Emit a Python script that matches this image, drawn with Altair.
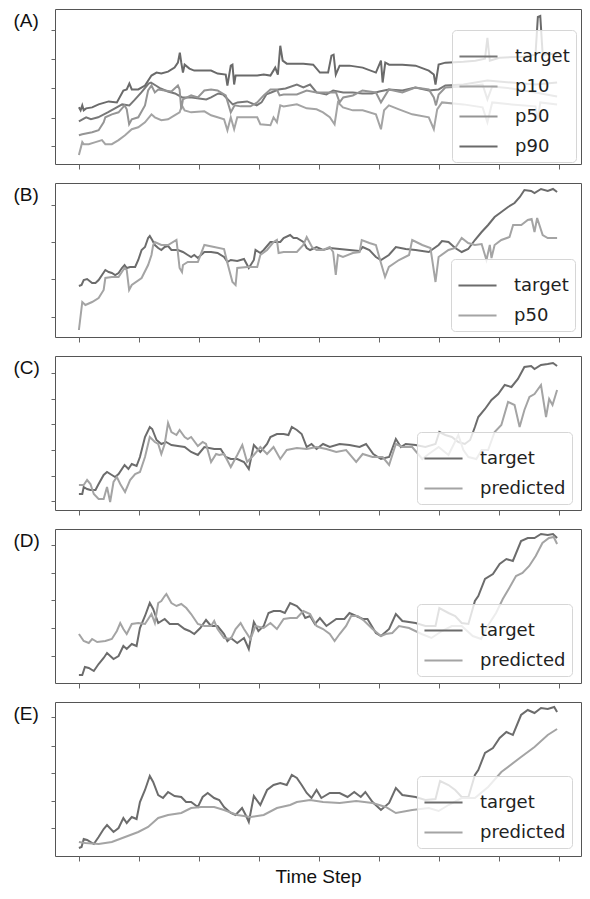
import altair as alt
import pandas as pd

# ---------------- data (time step, level) ----------------
# Panel A
A_target_t = [0, 3, 5, 8, 12, 15, 18, 21, 23, 26, 29, 30, 32, 34, 37, 40, 43, 47, 50, 53, 55, 58, 60, 62, 64, 66, 70, 74, 76, 78, 80, 83, 86, 90.7, 93.4, 96.2, 98.9, 103, 105.8, 110, 114, 118, 122, 125, 129, 134.6, 140, 145.6, 149.7, 152.5, 160, 170, 180, 190, 199]
A_target_v = [43, 47, 45, 47, 52, 56, 60, 59, 64, 72, 81, 82, 79, 76, 73, 71, 67, 67, 66, 65, 67, 71, 70, 65, 60, 62, 63, 59, 62, 70, 72, 75, 76, 80, 77, 80, 72, 70, 74, 72, 72, 71, 71, 73, 75, 74, 77, 74, 75, 79, 80, 84, 82, 80, 82]
A_p10_t = [0, 1.4, 2, 4.1, 6.9, 9.6, 11, 13.7, 16.5, 19.2, 22, 24.7, 27.5, 30.2, 31.6, 34.3, 37.1, 39.8, 41.9, 42.9, 44, 46.7, 52.2, 55, 57.7, 60.4, 61.8, 63.2, 64.6, 65.9, 71.4, 74.2, 75.5, 79.7, 81, 82.4, 83.8, 85.2, 90.7, 94.8, 98.9, 101.6, 104.4, 106.4, 107.8, 109.9, 114, 118.1, 123.6, 125.7, 127, 129, 133.2, 138.7, 145.6, 147.7, 149.1, 151.1, 160, 168, 170, 172, 180, 190, 191, 192, 199]
A_p10_v = [9, 22, 20, 20, 22, 24, 20, 20, 24, 29, 35, 37, 42, 50, 47, 44, 45, 49, 52, 59, 54, 52, 53, 49, 47, 45, 34, 47, 35, 47, 47, 47, 40, 39, 47, 42, 59, 58, 60, 56, 55, 52, 47, 40, 62, 57, 54, 54, 50, 35, 54, 59, 55, 50, 47, 35, 55, 62, 60, 57, 42, 62, 60, 58, 45, 62, 60]
A_p50_t = [0, 1.4, 5.5, 8.2, 10.3, 11, 13.7, 16.5, 19, 19.9, 20.9, 22, 24.7, 27.5, 28.8, 30.2, 31.6, 33, 35.7, 38.5, 41.2, 41.9, 42.6, 43.3, 46.7, 49.5, 52.2, 55, 57.7, 61.1, 63.2, 64.8, 67.3, 71.4, 74.2, 76.9, 79.7, 82.4, 83.5, 85.2, 90.7, 94.8, 98.9, 103, 107, 108.5, 110, 114, 118, 123.6, 125.7, 129, 134.6, 140, 145.6, 147.7, 148.6, 149.7, 152.5, 160, 168, 170, 172, 180, 190, 199]
A_p50_v = [29, 30, 32, 34, 42, 47, 50, 52, 59, 55, 40, 45, 47, 59, 74, 79, 72, 75, 74, 73, 79, 75, 55, 65, 69, 67, 74, 75, 74, 69, 52, 59, 58, 58, 62, 69, 75, 75, 69, 70, 70, 74, 72, 72, 72, 62, 67, 69, 74, 72, 62, 75, 72, 77, 75, 67, 59, 70, 77, 78, 80, 65, 78, 76, 72, 68]
A_p90_t = [0, 0.7, 1.4, 2, 3, 5.5, 8.2, 12.4, 15.8, 18.5, 19.9, 21, 22, 24.7, 27.5, 30.2, 32.3, 34.3, 37.1, 39.8, 41.2, 42, 42.6, 43.3, 44, 46, 48, 52.2, 55, 57.7, 61.1, 61.8, 63.2, 63.9, 64.6, 65.2, 68.7, 74.2, 76.9, 79.7, 81.7, 82.8, 83.8, 84.8, 86.5, 90.7, 93.4, 97.5, 100.3, 103.7, 105.1, 106, 106.9, 108.5, 112.6, 118.1, 123.6, 125.7, 126.4, 127.5, 129.1, 134.6, 140.1, 145.6, 147.7, 148.4, 149.7, 152.5, 160, 165, 169, 170, 171, 175, 185, 190, 191, 192, 193, 199]
A_p90_v = [57, 54, 59, 54, 56, 57, 60, 63, 62, 74, 75, 81, 75, 75, 79, 89, 92, 91, 93, 97, 102, 112, 102, 92, 100, 96, 94, 94, 94, 91, 90, 79, 99, 100, 80, 89, 89, 89, 90, 89, 97, 90, 119, 104, 101, 101, 101, 100, 92, 92, 109, 110, 90, 99, 99, 97, 92, 104, 82, 102, 100, 100, 99, 94, 90, 80, 100, 102, 103, 104, 106, 127, 104, 107, 108, 110, 148, 149, 110, 111]

# Panel B
B_target_t = [0, 1.1, 2, 3.4, 5.5, 6.9, 8.2, 11, 12.4, 13.7, 15.1, 16.5, 17.9, 19, 19.9, 21.3, 23.4, 24.7, 26.1, 27.5, 28.8, 29.5, 30.5, 31.6, 33, 34.3, 35.7, 37.1, 38.5, 41.2, 43.3, 45.3, 46.7, 48, 49.5, 52.2, 55, 57.7, 60.4, 61.8, 63.2, 65.9, 68.7, 70.7, 72.8, 73.5, 75.5, 76.9, 79.7, 83.8, 85.2, 87.9, 89.3, 90.7, 93.4, 94.8, 96.2, 98.9, 101.6, 104.4, 108.5, 112.6, 116.8, 118.1, 120.9, 123.6, 125.7, 129, 131.9, 136, 140.1, 145.6, 149.7, 151.1, 153.8, 156.6, 159.3, 162, 164.8, 167.6, 170.3, 173, 175.8, 178.6, 181.3, 183.5, 185.4, 188.2, 189.6, 192.3, 195.1, 197.3, 199]
B_target_v = [51, 52, 57, 58, 54, 54, 57, 67, 65, 64, 62, 64, 69, 72, 69, 70, 70, 77, 87, 90, 99, 101, 97, 92, 89, 87, 90, 91, 87, 87, 85, 82, 80, 82, 79, 85, 85, 84, 80, 75, 77, 76, 78, 69, 77, 87, 84, 87, 95, 95, 99, 102, 99, 99, 95, 89, 87, 90, 87, 89, 88, 87, 86, 90, 87, 80, 77, 82, 90, 88, 87, 85, 92, 96, 95, 89, 85, 88, 97, 105, 112, 120, 125, 130, 134, 140, 147, 146, 144, 148, 146, 148, 145]
B_p50_t = [0, 1.4, 2.7, 5.5, 8.2, 10.3, 11, 13.7, 16.5, 19, 19.9, 20.9, 22, 26.1, 28.8, 30.2, 30.9, 31.6, 34.3, 37.1, 40.6, 41.9, 42.9, 43.3, 45.3, 49.5, 52.2, 56.3, 60.4, 61.8, 63.9, 65.2, 65.9, 70, 74.2, 75.5, 78.3, 81, 82.4, 83.1, 85.2, 90.7, 93.4, 94.8, 97, 98.9, 101.6, 104.4, 105.8, 106.9, 107.8, 109.9, 114, 116.8, 117.7, 120.9, 123.6, 125.7, 127.4, 129, 133.2, 137.4, 138.7, 142.9, 146.3, 148.4, 149.7, 153.8, 156.6, 159.3, 162, 164.8, 167.6, 169.6, 171, 171.7, 173, 175.8, 179.2, 180.7, 184.1, 186.8, 188.4, 189.6, 190.7, 193, 195.1, 199]
B_p50_v = [7, 35, 32, 35, 39, 47, 59, 60, 60, 69, 67, 47, 52, 59, 72, 82, 92, 95, 92, 92, 97, 69, 65, 72, 75, 75, 92, 90, 88, 74, 55, 52, 69, 70, 70, 82, 87, 95, 97, 84, 85, 85, 92, 100, 90, 87, 87, 90, 85, 62, 82, 80, 84, 85, 97, 94, 92, 74, 60, 70, 77, 82, 97, 92, 89, 55, 80, 87, 89, 99, 94, 92, 93, 77, 92, 79, 92, 97, 100, 112, 112, 117, 118, 105, 119, 102, 99, 99]

# Panel C
C_target_t = [0, 1.4, 2, 3.4, 4.8, 6.9, 8.2, 10.3, 11.7, 13.7, 15.1, 16.5, 19, 20.6, 22, 24, 25.4, 27.5, 29.5, 30.5, 32.3, 34.3, 36.3, 38.5, 41.2, 44, 46.7, 49.5, 52.2, 56.3, 59, 61.1, 63.2, 65.9, 68.7, 70.7, 72.8, 75.5, 78.3, 79.7, 82.4, 85.2, 87.2, 88.6, 90.7, 92.7, 94.8, 96.8, 98.9, 101.6, 104.4, 108.5, 112.6, 116.8, 119.5, 122.5, 125.7, 129.1, 131.9, 134, 136, 140.1, 144.2, 148.4, 150, 152.5, 155.2, 157.9, 160.6, 162.8, 164.8, 166.2, 169, 171.7, 174.5, 177.2, 180, 182.7, 185.4, 188.2, 189.6, 192.3, 195.1, 197.3, 199]
C_target_v = [16, 16, 23, 21, 20, 20, 26, 35, 38, 35, 33, 36, 45, 41, 46, 44, 53, 73, 83, 81, 70, 66, 68, 65, 64, 63, 58, 55, 63, 61, 61, 53, 51, 51, 48, 41, 65, 58, 66, 73, 76, 76, 75, 83, 80, 76, 63, 66, 61, 66, 63, 66, 65, 63, 66, 56, 51, 53, 71, 63, 66, 65, 63, 66, 78, 75, 73, 68, 66, 70, 83, 93, 101, 110, 116, 125, 123, 131, 143, 144, 141, 145, 146, 147, 144]
C_pred_t = [0, 2, 3.4, 4.8, 6.2, 8.2, 10.3, 11.7, 13, 14.4, 15.8, 17.2, 19.2, 21.3, 23.4, 25.4, 27.5, 29.5, 31.6, 33, 34.3, 35.7, 37.1, 38.5, 40.6, 41.9, 44, 45.3, 46.7, 49.5, 51.5, 52.9, 55, 57.1, 58.4, 60.4, 63.2, 65.9, 68, 70, 72.8, 75.5, 78.3, 81, 83.8, 86.5, 90.7, 94.8, 98.9, 103, 107.1, 111.2, 115.4, 118.1, 122.2, 126.4, 129.1, 131.9, 134.6, 138.7, 142.9, 145.6, 149.7, 153.8, 157.9, 160, 162.1, 165.4, 167.6, 170.3, 173, 175.8, 178.6, 181.3, 183.4, 185.4, 187.5, 189.6, 192.3, 194.4, 195.7, 197.1, 199]
C_pred_v = [25, 25, 30, 26, 16, 11, 11, 23, 8, 28, 33, 26, 18, 30, 36, 38, 53, 73, 68, 66, 56, 66, 87, 78, 75, 80, 73, 71, 73, 64, 68, 66, 48, 56, 55, 56, 43, 55, 65, 48, 55, 63, 56, 63, 51, 60, 62, 61, 63, 61, 58, 60, 48, 56, 53, 53, 45, 66, 63, 63, 51, 56, 63, 55, 75, 60, 53, 51, 60, 60, 78, 85, 108, 105, 83, 100, 113, 116, 125, 93, 111, 105, 120]

# Panel D
D_target_t = [0, 1.4, 2.5, 4.1, 6.2, 8.2, 10.3, 11.7, 14.4, 16.5, 18.5, 19.9, 22, 24, 25.4, 27.5, 29.5, 30.9, 33, 35.7, 37.8, 41.2, 44, 46, 48, 50.5, 52.9, 55, 57.7, 60.4, 61.8, 63.2, 65.9, 68.7, 70.7, 72.8, 74.7, 76.9, 78.9, 81, 83.8, 85.7, 87.9, 90.7, 92.7, 94.2, 96.2, 98.2, 100.3, 103, 107.1, 110.5, 112.6, 115.4, 118.1, 120.1, 123.6, 125.7, 129.1, 131.9, 134.6, 140.1, 144.2, 148.4, 150, 153.8, 156.6, 159.3, 162.1, 164.8, 166.2, 169, 172.3, 175.1, 177.9, 180.6, 184, 186.8, 189.6, 192.3, 195.1, 197.3, 199]
D_target_v = [8, 8, 16, 15, 12, 19, 25, 30, 24, 27, 37, 34, 39, 37, 55, 67, 80, 74, 60, 64, 59, 59, 54, 52, 49, 55, 63, 57, 57, 49, 42, 45, 40, 45, 34, 61, 52, 57, 70, 72, 72, 70, 80, 77, 72, 65, 67, 59, 65, 57, 64, 64, 70, 67, 64, 64, 50, 47, 54, 69, 62, 60, 57, 57, 75, 70, 67, 60, 59, 82, 87, 104, 109, 119, 124, 122, 142, 145, 145, 149, 148, 149, 145]
D_pred_t = [0, 2, 4.1, 5.5, 7.6, 11, 13.7, 15.8, 17.2, 18.5, 19.9, 22, 24.7, 27.5, 30.2, 31.6, 33, 34.3, 35.7, 36.4, 38.5, 40.6, 42.6, 44.7, 46.7, 49.5, 52.2, 55, 56.3, 57.7, 60.4, 63.2, 65.2, 67.3, 68.7, 71.4, 73.5, 76.9, 79.7, 82.4, 85.2, 87.9, 90.7, 93.4, 96.2, 98.9, 101.6, 104.4, 106.4, 108.5, 111.2, 113.3, 116, 118.8, 122.2, 125.7, 127.7, 130.4, 133.2, 137.4, 142.6, 146.7, 151.1, 155.2, 159.3, 163.9, 167.4, 170.1, 173.6, 176.4, 179.1, 181.9, 184.6, 187.4, 190.1, 192.9, 195.6, 197.6, 199]
D_pred_v = [49, 42, 40, 44, 41, 42, 44, 52, 60, 54, 49, 59, 60, 59, 69, 60, 80, 82, 87, 89, 80, 77, 79, 75, 69, 59, 57, 57, 62, 54, 45, 44, 54, 60, 54, 44, 57, 55, 60, 54, 64, 65, 65, 72, 69, 57, 54, 49, 42, 49, 57, 67, 67, 62, 54, 47, 49, 50, 57, 55, 49, 45, 52, 57, 57, 47, 44, 57, 70, 84, 95, 107, 110, 117, 127, 140, 145, 146, 139]

# Panel E
E_target_t = [0, 1.1, 2, 3.4, 6.2, 8.2, 10.3, 11.7, 14.4, 16.5, 18.5, 19.9, 22, 24, 25.4, 27.5, 29.5, 30.9, 33, 35, 37.1, 39.8, 42.6, 44.6, 46.7, 49.5, 51.5, 53.6, 56.3, 58.4, 60.4, 63.2, 65.2, 67.9, 69.4, 70.7, 72.8, 75.5, 78.3, 81, 83.8, 86.5, 88.6, 90.7, 92.7, 94.8, 96.8, 98.9, 100.9, 104.4, 108.5, 111.8, 114.6, 117.3, 119.2, 122.2, 125.7, 129.1, 131.9, 134.6, 140.1, 144.2, 148.4, 150.3, 153.8, 156.6, 159.3, 162.1, 164.8, 166.2, 169, 172.3, 175.1, 177.9, 180.6, 184, 186.8, 189.6, 192.3, 195.1, 197.8, 199]
E_target_v = [8, 9, 17, 16, 12, 19, 27, 31, 24, 28, 38, 33, 39, 37, 54, 66, 80, 74, 61, 58, 64, 60, 59, 54, 54, 49, 59, 63, 58, 56, 49, 43, 41, 48, 41, 34, 60, 51, 66, 71, 73, 71, 81, 78, 71, 63, 58, 66, 58, 63, 63, 59, 64, 59, 64, 54, 46, 53, 68, 61, 59, 56, 57, 75, 71, 66, 59, 59, 81, 86, 103, 108, 118, 124, 121, 141, 146, 143, 148, 147, 149, 144]
E_pred_t = [0, 2.7, 8.2, 13.7, 19.2, 24.7, 28.8, 33, 37.1, 42.6, 46.7, 50.8, 56.3, 60.4, 65.9, 71.4, 76.9, 82.4, 87.9, 90.7, 96.2, 101.6, 108.5, 115.4, 122.2, 127.7, 131.9, 138.7, 145.6, 149.7, 153.8, 159.3, 164.8, 170.3, 175.8, 184, 189.6, 195.1, 199]
E_pred_v = [14, 13, 12, 14, 19, 24, 29, 38, 41, 43, 48, 49, 49, 46, 41, 39, 41, 48, 51, 54, 56, 54, 53, 55, 53, 49, 43, 46, 48, 45, 51, 58, 58, 69, 84, 99, 109, 121, 127]

# axis tick positions (level units)
x_ticks = [0, 25, 50, 75, 100, 125, 150, 175, 200]
A_yticks = [17.7, 46.7, 76, 105.3, 135.3]
B_yticks = [20, 58, 95, 132]
C_yticks = [8.7, 34, 59.7, 85.7, 111.3, 137.3]
D_yticks = [27, 54.7, 82.7, 110.3, 138]
E_yticks = [28.3, 55.3, 82.7, 110.3, 138.7]

FONT_LEG = "DejaVu Sans"
FONT_TXT = "Liberation Sans"
PLOT_W = 526


def frame(series_list):
    rows = []
    for name, ts, vs in series_list:
        for t, v in zip(ts, vs):
            rows.append({"t": t, "v": v, "series": name})
    return pd.DataFrame(rows)


def panel(series_list, colors, yticks, ydom, label, lx, ly, height, xtitle=None):
    df = frame(series_list)
    order = [s[0] for s in series_list]
    if xtitle:
        xaxis = alt.Axis(values=x_ticks, labels=False, domain=False, grid=False,
                         tickSize=5, tickColor="#666", title=xtitle,
                         titleFont=FONT_TXT, titleFontSize=19, titleFontWeight="normal",
                         titleColor="#111", titlePadding=6)
    else:
        xaxis = alt.Axis(values=x_ticks, labels=False, domain=False, grid=False,
                         tickSize=5, tickColor="#666", title=None)
    yaxis = alt.Axis(values=yticks, labels=False, domain=False, grid=False,
                     tickSize=4, tickColor="#666", title=label, titleAngle=0,
                     titleAlign="left", titleBaseline="middle", titleX=-42, titleY=11,
                     titleFont=FONT_TXT, titleFontSize=19, titleFontWeight="normal",
                     titleColor="#111")
    legend = alt.Legend(title=None, orient="none", legendX=lx, legendY=ly,
                        symbolType="stroke", symbolStrokeWidth=2, symbolSize=1450,
                        labelFont=FONT_LEG, labelFontSize=18, labelColor="#222",
                        labelOffset=16, rowPadding=-5, padding=6,
                        fillColor="rgba(255,255,255,0.8)", strokeColor="#d6d6d6",
                        cornerRadius=4)
    return alt.Chart(df).mark_line(strokeWidth=2, clip=True).encode(
        x=alt.X("t:Q", scale=alt.Scale(domain=[-9.95, 208.95], nice=False, zero=False), axis=xaxis),
        y=alt.Y("v:Q", scale=alt.Scale(domain=ydom, nice=False, zero=False), axis=yaxis),
        color=alt.Color("series:N", sort=order,
                        scale=alt.Scale(domain=order, range=colors), legend=legend),
    ).properties(width=PLOT_W, height=height)


pA = panel([("target", A_target_t, A_target_v), ("p10", A_p10_t, A_p10_v),
            ("p50", A_p50_t, A_p50_v), ("p90", A_p90_t, A_p90_v)],
           ["#787878", "#a4a4a4", "#959595", "#6a6a6a"], A_yticks, [0, 156], "(A)", 397, 21, 155)
pB = panel([("target", B_target_t, B_target_v), ("p50", B_p50_t, B_p50_v)],
           ["#6c6c6c", "#a4a4a4"], B_yticks, [0, 154], "(B)", 396, 76, 154)
pC = panel([("target", C_target_t, C_target_v), ("predicted", C_pred_t, C_pred_v)],
           ["#6c6c6c", "#a4a4a4"], C_yticks, [0, 154], "(C)", 362, 76, 154)
pD = panel([("target", D_target_t, D_target_v), ("predicted", D_pred_t, D_pred_v)],
           ["#6c6c6c", "#a4a4a4"], D_yticks, [0, 154], "(D)", 362, 75, 154)
pE = panel([("target", E_target_t, E_target_v), ("predicted", E_pred_t, E_pred_v)],
           ["#6c6c6c", "#a4a4a4"], E_yticks, [0, 154], "(E)", 362, 74, 154, xtitle="Time Step")

chart = alt.vconcat(pA, pB, pC, pD, pE, spacing=19, bounds="flush").resolve_scale(
    color="independent", x="independent", y="independent"
).properties(
    padding={"left": 4, "top": 0, "right": 0, "bottom": 0}
).configure_view(stroke="#555", strokeWidth=1)

chart.save("out.html", embed_options={"renderer": "svg", "actions": False})
